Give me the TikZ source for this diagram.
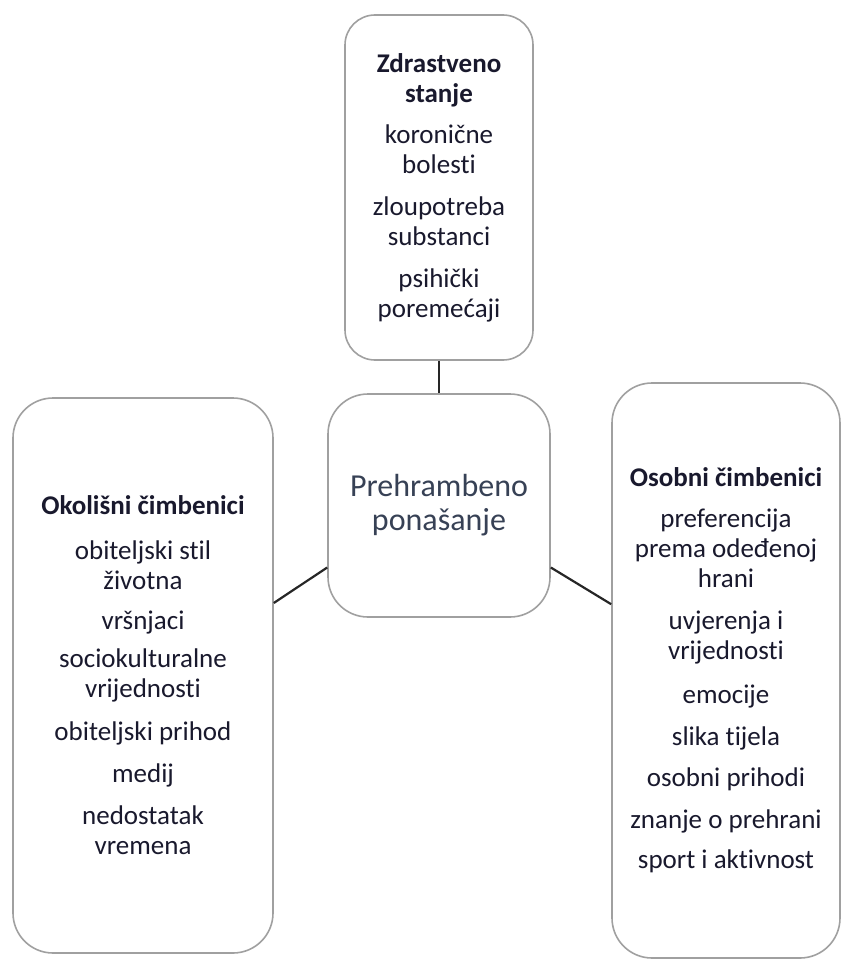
\documentclass[tikz,border=0pt]{standalone}
\usepackage{fontspec}
\setmainfont{Carlito}[Ligatures=NoCommon]
\definecolor{tekst}{RGB}{25,25,45}
\definecolor{naslov}{RGB}{55,65,85}
\definecolor{rub}{RGB}{160,160,160}
\begin{document}
\begin{tikzpicture}[x=1pt,y=-1pt]
\tikzstyle{kutija}=[draw=rub,line width=1.6pt,fill=white,rounded corners=40pt,align=center,inner sep=0pt,text=tekst,font=\fontsize{27}{30}\selectfont];
\tikzstyle{veza}=[line width=2.2pt,black!85];
\useasboundingbox (0,0) rectangle (843,961);

% sredina
\node[kutija,minimum width=222pt,minimum height=223pt,text=naslov,font=\fontsize{32}{34}\selectfont] (sredina) at (439,505.5) {Prehrambeno\\ponašanje};

% gore
\node[kutija,rounded corners=30pt,minimum width=188pt,minimum height=345pt] (gore) at (439,187.5) {%
\textbf{Zdrastveno}\\\textbf{stanje}\\[11pt]
koronične\\bolesti\\[12pt]
zloupotreba\\substanci\\[12pt]
psihički\\poremećaji};

% lijevo
\node[kutija,minimum width=260pt,minimum height=555pt] (lijevo) at (143,675.5) {%
\textbf{Okolišni čimbenici}\\[15pt]
obiteljski stil\\životna\\[10pt]
vršnjaci\\[8pt]
sociokulturalne\\vrijednosti\\[13pt]
obiteljski prihod\\[12pt]
medij\\[12pt]
nedostatak\\vremena};

% desno
\node[kutija,minimum width=228pt,minimum height=575pt] (desno) at (726,670.5) {%
\textbf{Osobni čimbenici}\\[11pt]
preferencija\\prema odeđenoj\\hrani\\[12pt]
uvjerenja i\\vrijednosti\\[14pt]
emocije\\[12pt]
slika tijela\\[11pt]
osobni prihodi\\[12pt]
znanje o prehrani\\[10pt]
sport i aktivnost};

\draw[veza] (gore) -- (sredina);
\draw[veza] (lijevo.29.5) -- (sredina.209);
\draw[veza] (sredina.331) -- (desno.150);
\end{tikzpicture}
\end{document}
